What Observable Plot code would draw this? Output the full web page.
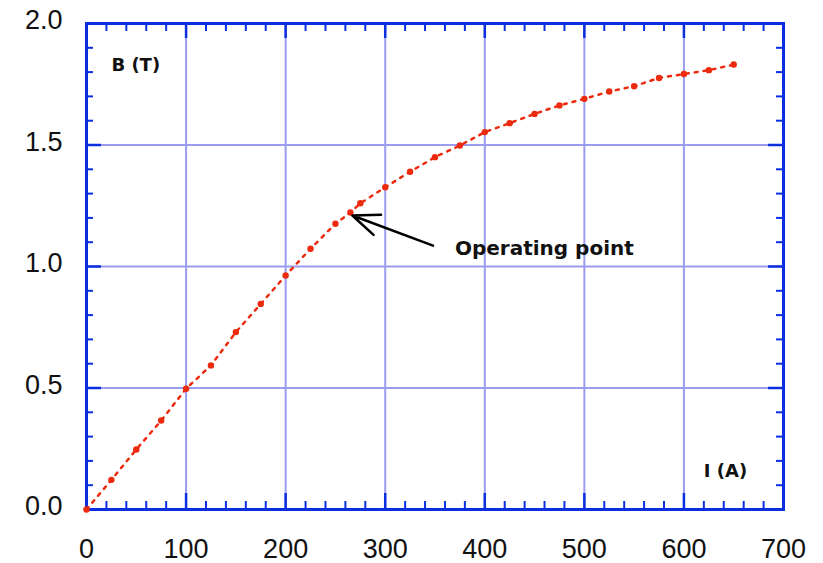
<!DOCTYPE html>
<html>
<head>
<meta charset="utf-8">
<script src="https://cdn.jsdelivr.net/npm/d3@7"></script>
<script src="https://cdn.jsdelivr.net/npm/@observablehq/plot@0.6"></script>
<style>
  html, body { margin: 0; padding: 0; background: #fff; }
  #chart { width: 823px; height: 563px; }
</style>
</head>
<body>
<div id="chart"></div>
<script>
// Data: magnetisation curve, current I (A) vs flux density B (T)
const current = [0, 25, 50, 75, 100, 125, 150, 175, 200, 225, 250, 265, 275, 300, 325, 350, 375, 400, 425, 450, 475, 500, 525, 550, 575, 600, 625, 650];
const fluxB   = [0, 0.122, 0.247, 0.366, 0.497, 0.593, 0.73, 0.846, 0.963, 1.073, 1.176, 1.222, 1.26, 1.326, 1.39, 1.45, 1.498, 1.553, 1.59, 1.628, 1.663, 1.69, 1.72, 1.742, 1.776, 1.792, 1.808, 1.831];

const xTicks = [0, 100, 200, 300, 400, 500, 600, 700];
const yTicks = [0, 0.5, 1.0, 1.5, 2.0];
const xGrid = [100, 200, 300, 400, 500, 600];
const yGrid = [0.5, 1.0, 1.5];
const xMinor = d3.range(0, 701, 20).filter(v => v % 100 !== 0);
const yMinor = [0.1, 0.2, 0.3, 0.4, 0.6, 0.7, 0.8, 0.9, 1.1, 1.2, 1.3, 1.4, 1.6, 1.7, 1.8, 1.9];
const xMajorInner = [100, 200, 300, 400, 500, 600];
const yMajorInner = [0.5, 1.0, 1.5];

// Annotations
const axisLabels = [
  {x: 25, y: 1.827, text: "B (T)"},
  {x: 620, y: 0.156, text: "I (A)"}
];
const noteLabel = [{x: 370, y: 1.074, text: "Operating point"}];
const noteArrow = [{x1: 348, y1: 1.086, x2: 267, y2: 1.21}];

const data = current.map((c, i) => ({I: c, B: fluxB[i]}));

const W = 823, H = 563, mL = 86, mR = 40, mT = 23, mB = 54;
const plotW = W - mL - mR, plotH = H - mT - mB;

const frameBlue = "#0a2ee0";
const gridBlue = "#9b9cf0";
const red = "#ec2a0e";

const chart = Plot.plot({
  width: W,
  height: H,
  marginLeft: mL,
  marginRight: mR,
  marginTop: mT,
  marginBottom: mB,
  style: {fontFamily: "'Liberation Sans', Arial, sans-serif", background: "#fff", color: "#111"},
  x: {domain: [0, 700], axis: null},
  y: {domain: [0, 2], axis: null},
  marks: [
    Plot.gridX(xGrid, {stroke: gridBlue, strokeOpacity: 1, strokeWidth: 2}),
    Plot.gridY(yGrid, {stroke: gridBlue, strokeOpacity: 1, strokeWidth: 2}),
    // minor ticks, inward on all four sides
    Plot.tickX(xMinor, {x: d => d, insetTop: plotH - 8, stroke: frameBlue, strokeWidth: 2}),
    Plot.tickX(xMinor, {x: d => d, insetBottom: plotH - 8, stroke: frameBlue, strokeWidth: 2}),
    Plot.tickY(yMinor, {y: d => d, insetRight: plotW - 7, stroke: frameBlue, strokeWidth: 2}),
    Plot.tickY(yMinor, {y: d => d, insetLeft: plotW - 7, stroke: frameBlue, strokeWidth: 2}),
    // major ticks
    Plot.tickX(xMajorInner, {x: d => d, insetTop: plotH - 16, stroke: frameBlue, strokeWidth: 2.5}),
    Plot.tickX(xMajorInner, {x: d => d, insetBottom: plotH - 15, stroke: frameBlue, strokeWidth: 2.5}),
    Plot.tickY(yMajorInner, {y: d => d, insetRight: plotW - 15, stroke: frameBlue, strokeWidth: 2.5}),
    Plot.tickY(yMajorInner, {y: d => d, insetLeft: plotW - 15, stroke: frameBlue, strokeWidth: 2.5}),
    Plot.frame({stroke: frameBlue, strokeWidth: 3}),
    // curve
    Plot.line(data, {x: "I", y: "B", stroke: red, strokeWidth: 2.5, strokeDasharray: "3,6"}),
    Plot.dot(data, {x: "I", y: "B", r: 3.2, fill: red}),
    // annotation
    Plot.arrow(noteArrow, {x1: "x1", y1: "y1", x2: "x2", y2: "y2", stroke: "#000", strokeWidth: 2.5, headLength: 18, headAngle: 44}),
    Plot.text(noteLabel, {x: "x", y: "y", text: "text", textAnchor: "start", fontFamily: "'DejaVu Sans', Verdana, sans-serif", fontWeight: "bold", fontSize: 20, fill: "#111"}),
    Plot.text(axisLabels, {x: "x", y: "y", text: "text", textAnchor: "start", fontFamily: "'DejaVu Sans', Verdana, sans-serif", fontWeight: "bold", fontSize: 18, fill: "#111"}),
    // tick labels
    Plot.axisX(xTicks, {anchor: "bottom", tickSize: 0, tickPadding: 29, fontSize: 27, label: null, fill: "#111"}),
    Plot.axisY(yTicks, {anchor: "left", tickSize: 0, tickPadding: 24, fontSize: 27, label: null, dy: -3, tickFormat: d3.format(".1f"), fill: "#111"})
  ]
});

document.getElementById("chart").appendChild(chart);
</script>
</body>
</html>
